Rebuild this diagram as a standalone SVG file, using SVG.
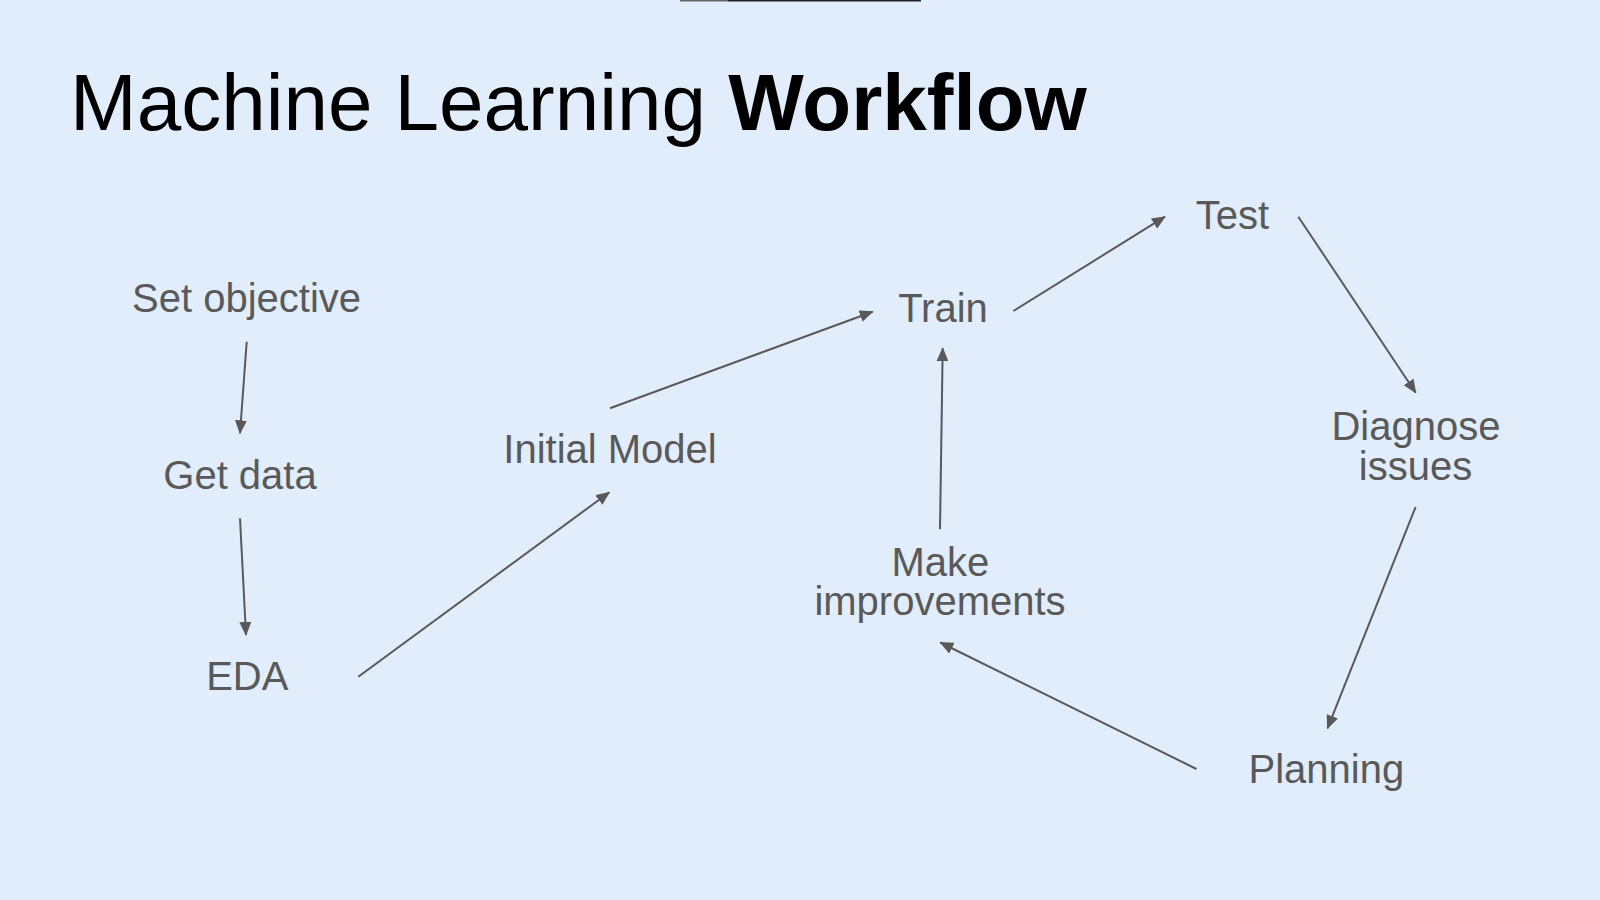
<svg xmlns="http://www.w3.org/2000/svg" width="1600" height="900" viewBox="0 0 1600 900">
  <defs>
    <marker id="arrow" markerUnits="userSpaceOnUse" markerWidth="14" markerHeight="12" refX="13" refY="6" orient="auto">
      <path d="M0,0 L14,6 L0,12 z" fill="#595959"/>
    </marker>
    <style>
      .lbl { font-family: "Liberation Sans", Arial, sans-serif; font-size: 40px; fill: #595959; text-anchor: middle; }
      .title { font-family: "Liberation Sans", Arial, sans-serif; font-size: 80px; fill: #000000; }
      .conn line { stroke: #595959; stroke-width: 2; fill: none; marker-end: url(#arrow); }
    </style>
  </defs>
  <rect x="0" y="0" width="1600" height="900" fill="#e1edfb"/>
  <rect x="680" y="0" width="48" height="1.5" fill="#666666"/>
  <rect x="728" y="0" width="193" height="1.5" fill="#222222"/>

  <text class="title" x="70" y="129.5">Machine Learning <tspan font-weight="bold">Workflow</tspan></text>

  <g id="connectors" class="conn">
    <line x1="246.7" y1="341.7" x2="240" y2="433.3"/>
    <line x1="240" y1="518.3" x2="246" y2="635"/>
    <line x1="358.3" y1="676.7" x2="609.3" y2="492.3"/>
    <line x1="610" y1="408.3" x2="872.7" y2="311.7"/>
    <line x1="1013.3" y1="311" x2="1165" y2="216.7"/>
    <line x1="1298.3" y1="216.7" x2="1415.7" y2="392.7"/>
    <line x1="1415.6" y1="507" x2="1327.5" y2="728.3"/>
    <line x1="1196.5" y1="769" x2="940.3" y2="642.5"/>
    <line x1="940" y1="529.3" x2="942.7" y2="348.3"/>
  </g>

  <g id="node-set-objective"><text class="lbl" x="246.5" y="311.7">Set objective</text></g>
  <g id="node-get-data"><text class="lbl" x="240" y="488.8">Get data</text></g>
  <g id="node-eda"><text class="lbl" x="247.3" y="690">EDA</text></g>
  <g id="node-initial-model"><text class="lbl" x="610" y="462.7">Initial Model</text></g>
  <g id="node-train"><text class="lbl" x="943" y="321.7">Train</text></g>
  <g id="node-test"><text class="lbl" x="1232.5" y="229.3">Test</text></g>
  <g id="node-diagnose"><text class="lbl" x="1416" y="440">Diagnose</text><text class="lbl" x="1415.5" y="479.5">issues</text></g>
  <g id="node-planning"><text class="lbl" x="1326.4" y="782.7">Planning</text></g>
  <g id="node-make-improvements"><text class="lbl" x="940.3" y="576">Make</text><text class="lbl" x="940" y="615.3">improvements</text></g>
</svg>
